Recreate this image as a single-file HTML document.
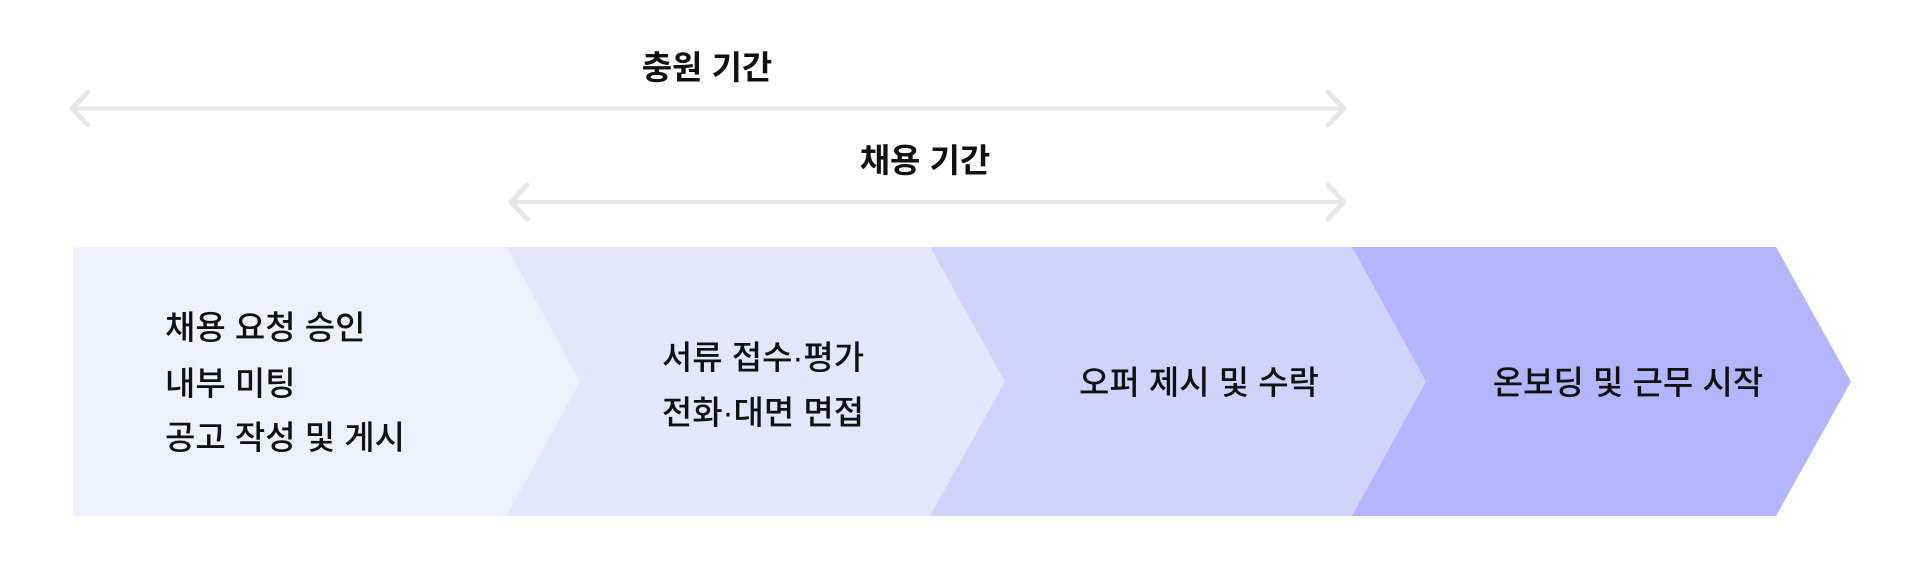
<!DOCTYPE html>
<html><head><meta charset="utf-8"><style>
html,body{margin:0;padding:0;background:#fff;}
body{width:1920px;height:576px;overflow:hidden;position:relative;}
svg{position:absolute;left:0;top:0;}
text{font-family:"Liberation Sans","Noto Sans CJK KR",sans-serif;fill:#111;}
</style></head><body>
<svg width="1920" height="576" viewBox="0 0 1920 576">
<g fill="none" stroke="#e5e7eb" stroke-linecap="round" stroke-linejoin="round">
<line x1="74" y1="108.5" x2="1342" y2="108.5" stroke-width="4"/>
<polyline points="88,92 72,108.5 88,125" stroke-width="5"/>
<polyline points="1328,92 1344,108.5 1328,125" stroke-width="5"/>
<line x1="512" y1="202" x2="1342" y2="202" stroke-width="4"/>
<polyline points="527,185 511,202 527,219" stroke-width="5"/>
<polyline points="1328,185 1344,202 1328,219" stroke-width="5"/>
</g>
<text x="707" y="79" font-size="33" font-weight="bold" text-anchor="middle">충원 기간</text>
<text x="925" y="172" font-size="33" font-weight="bold" text-anchor="middle">채용 기간</text>
<polygon points="1352,247 1776,247 1851,381.5 1776,516 1352,516" fill="#b3b6fc"/>
<polygon points="930,247 1352,247 1426,381.5 1352,516 930,516" fill="#d1d3fd"/>
<polygon points="507,247 930,247 1005,381.5 930,516 507,516" fill="#e4e6fd"/>
<polygon points="73,247 507,247 580,381.5 507,516 73,516" fill="#eff0fd"/>
<g font-size="33" font-weight="500">
<text x="165" y="339">채용 요청 승인</text>
<text x="165" y="395">내부 미팅</text>
<text x="165" y="449">공고 작성 및 게시</text>
<text x="763" y="369" text-anchor="middle">서류 접수·평가</text>
<text x="763" y="424" text-anchor="middle">전화·대면 면접</text>
<text x="1199" y="394" text-anchor="middle">오퍼 제시 및 수락</text>
<text x="1628" y="394" text-anchor="middle">온보딩 및 근무 시작</text>
</g>
</svg>
</body></html>
